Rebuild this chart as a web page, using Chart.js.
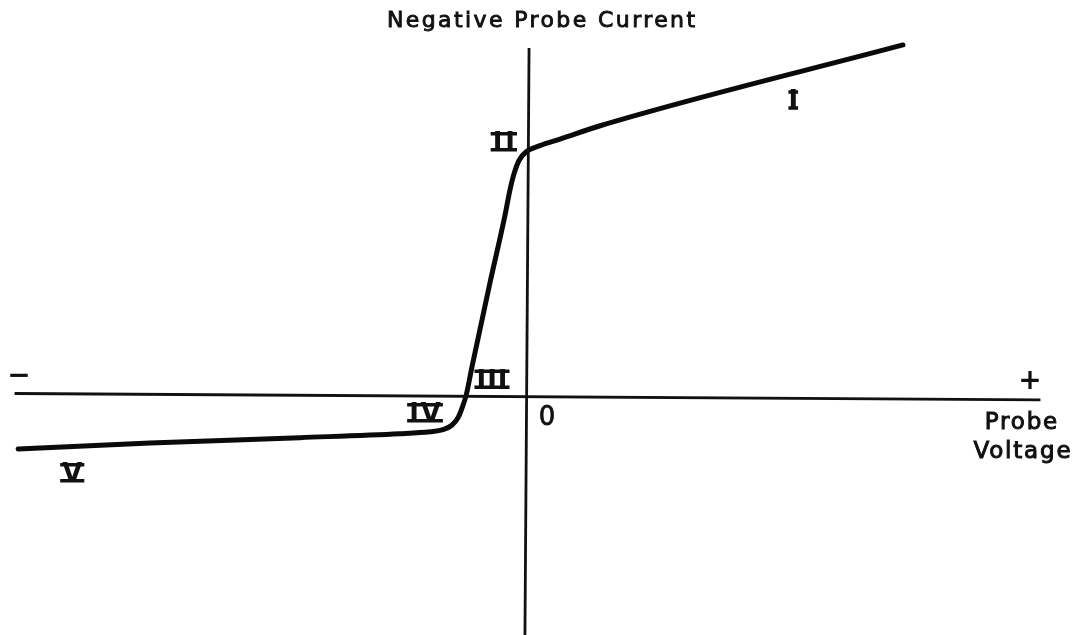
<!DOCTYPE html>
<html>
<head>
<meta charset="utf-8">
<script src="https://cdn.jsdelivr.net/npm/chart.js@4"></script>
<style>
  html, body { margin: 0; padding: 0; background: #fff; }
  #wrap { width: 1086px; height: 635px; position: relative; }
</style>
</head>
<body>
<div id="wrap"><canvas id="probeChart"></canvas></div>
<script>
// probe characteristic, arbitrary units
const voltage = [-9.88, -7.32, -4.41, -2.47, -1.88, -1.63, -1.46, -1.34, -1.26, -1.18, -1.07, -0.72, -0.43, -0.33, -0.25, -0.15, -0.02, 0.25, 0.64, 1.42, 7.30];
const current = [-1.09, -0.97, -0.86, -0.78, -0.74, -0.70, -0.61, -0.46, -0.26, 0, 0.56, 2.26, 3.61, 4.14, 4.47, 4.74, 4.90, 5.03, 5.16, 5.43, 7.06];

// axis lines (end points)
const axisVoltage = [[-9.95, 0.03], [9.97, -0.10]];
const axisCurrent = [[0.04, 7.0], [-0.04, -4.84]];

// region labels: text, voltage, current, letter spacing
const regions = [
  ["I", 5.17, 5.95, 0],
  ["II", -0.45, 5.11, 3],
  ["III", -0.68, 0.32, 1],
  ["IV", -1.98, -0.36, 2],
  ["V", -8.83, -1.57, 0],
];

const toPoints = (xs, ys) => xs.map((x, i) => ({ x: x, y: ys[i] }));
const pairs = (arr) => arr.map((p) => ({ x: p[0], y: p[1] }));

// spaced text centred on (cx, cy); returns the drawn width
function spacedText(ctx, text, cx, cy, spacing, thicken) {
  ctx.letterSpacing = spacing + "px";
  const w = ctx.measureText(text).width - spacing;
  ctx.textAlign = "left";
  ctx.fillText(text, cx - w / 2, cy);
  if (thicken) {
    ctx.lineWidth = thicken;
    ctx.strokeText(text, cx - w / 2, cy);
  }
  return w;
}

// roman numeral with the drafting bars above and below
function numeral(ctx, text, cx, cy, spacing) {
  ctx.font = "bold 26px 'DejaVu Sans'";
  ctx.textBaseline = "alphabetic";
  const capH = 19;
  const base = cy + capH / 2;
  const w = spacedText(ctx, text, cx, base, spacing, 0);
  const pad = text === "I" ? 0 : 2;
  ctx.lineWidth = 3.5;
  ctx.beginPath();
  ctx.moveTo(cx - w / 2 - pad, base - capH + 1.5);
  ctx.lineTo(cx + w / 2 + pad, base - capH + 1.5);
  ctx.moveTo(cx - w / 2 - pad, base - 1.5);
  ctx.lineTo(cx + w / 2 + pad, base - 1.5);
  ctx.stroke();
}

// writes the hand lettering on top of the chart
const letteringPlugin = {
  id: "lettering",
  afterDraw(chart) {
    const ctx = chart.ctx;
    const sx = chart.scales.x;
    const sy = chart.scales.y;
    ctx.save();
    ctx.fillStyle = "#111";
    ctx.strokeStyle = "#111";
    ctx.textBaseline = "middle";

    ctx.font = "22px 'DejaVu Sans'";
    spacedText(ctx, "Negative Probe Current", 541, 21, 2.4, 0.9);
    ctx.font = "23px 'DejaVu Sans'";
    spacedText(ctx, "Probe", 1021, 423, 1.8, 1);
    spacedText(ctx, "Voltage", 1022, 452, 1.8, 1);

    ctx.font = "26px 'DejaVu Sans'";
    spacedText(ctx, "0", sx.getPixelForValue(0.39), sy.getPixelForValue(-0.46), 0, 0.8);

    ctx.font = "bold 28px 'DejaVu Sans'";
    spacedText(ctx, "−", 19, 377, 0, 0);
    spacedText(ctx, "+", 1030, 382, 0, 0);

    regions.forEach(function (r) {
      numeral(ctx, r[0], sx.getPixelForValue(r[1]), sy.getPixelForValue(r[2]), r[3]);
    });
    ctx.restore();
  },
};

new Chart(document.getElementById("probeChart"), {
  type: "line",
  data: {
    datasets: [
      {
        data: pairs(axisVoltage),
        borderColor: "#111",
        borderWidth: 2.8,
        pointRadius: 0,
      },
      {
        data: pairs(axisCurrent),
        borderColor: "#111",
        borderWidth: 2.8,
        pointRadius: 0,
      },
      {
        data: toPoints(voltage, current),
        borderColor: "#0a0a0a",
        borderWidth: 5,
        pointRadius: 0,
        cubicInterpolationMode: "monotone",
        borderCapStyle: "round",
        borderJoinStyle: "round",
        clip: false,
      },
    ],
  },
  options: {
    responsive: true,
    maintainAspectRatio: false,
    animation: false,
    layout: { padding: { left: 12, right: 44, top: 38, bottom: 0 } },
    plugins: { legend: { display: false }, tooltip: { enabled: false } },
    scales: {
      x: { type: "linear", min: -10, max: 10, display: false },
      y: { type: "linear", min: -4.84, max: 7.2, display: false },
    },
  },
  plugins: [letteringPlugin],
});
</script>
</body>
</html>
